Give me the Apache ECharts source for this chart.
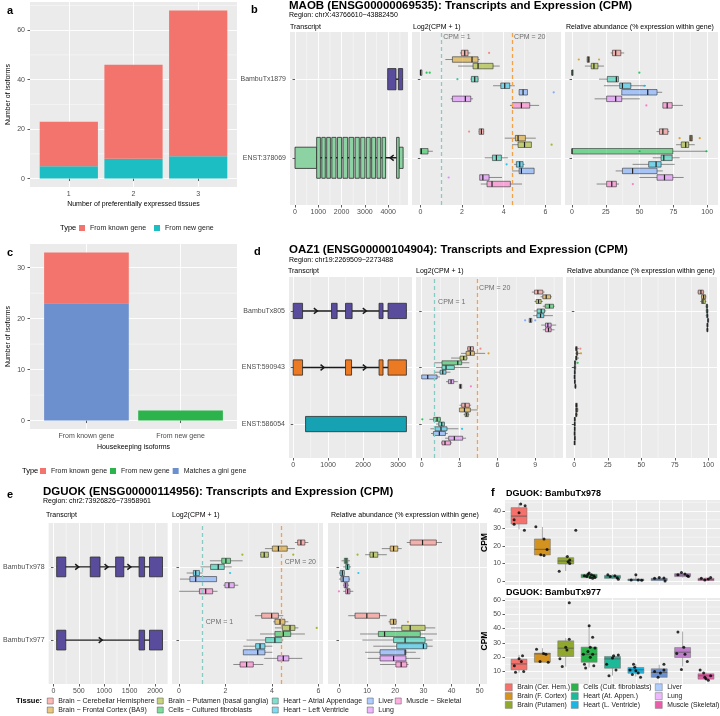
<!DOCTYPE html>
<html>
<head>
<meta charset="utf-8">
<script src="https://cdn.jsdelivr.net/npm/echarts@6/dist/echarts.min.js"></script>
<style>
  html, body { margin: 0; padding: 0; background: #fff; }
  #chart { width: 720px; height: 716px; }
</style>
</head>
<body>
<div id="chart"></div>
<script>
var FONT = '"Liberation Sans", Arial, sans-serif';

// ---------- panel a: isoforms by number of preferentially expressed tissues
var aTissueCounts = [1, 2, 3];
var aKnown = [18, 38, 59];
var aNew = [5, 8, 9];

// ---------- panel c: housekeeping isoforms
var cGroups = ['From known gene', 'From new gene'];
var cGini = [23, 0];
var cKnown = [10, 0];
var cNew = [0, 2];

// ---------- tissues
var tissues = ['Brain \u2212 Cerebellar Hemisphere', 'Brain \u2212 Frontal Cortex (BA9)', 'Brain \u2212 Putamen (basal ganglia)',
  'Cells \u2212 Cultured fibroblasts', 'Heart \u2212 Atrial Appendage', 'Heart \u2212 Left Ventricle', 'Liver', 'Lung', 'Muscle \u2212 Skeletal'];
var tissuesShort = ['Brain (Cer. Hem.)', 'Brain (F. Cortex)', 'Brain (Putamen)', 'Cells (Cult. fibroblasts)',
  'Heart (At. Appen.)', 'Heart (L. Ventricle)', 'Liver', 'Lung', 'Muscle (Skeletal)'];
var cpmThresholds = [1, 20];

// ---------- panel b: MAOB  (transcript index: 1 = ENST:378069, 2 = BambuTx1879)
var bTranscripts = ['ENST:378069', 'BambuTx1879'];
var bExons = [[2, 3978, 4335], [2, 4435, 4620], [1, 0, 930], [1, 4470, 4640]];
var bCds = [[1, 930, 1090], [1, 1150, 1300], [1, 1360, 1520], [1, 1580, 1760], [1, 1820, 2000], [1, 2060, 2260],
  [1, 2320, 2520], [1, 2580, 2760], [1, 2820, 3000], [1, 3060, 3230], [1, 3290, 3460], [1, 3520, 3680],
  [1, 3740, 3890], [1, 4360, 4470]];
var bIntrons = [[1, 0, 4640], [2, 3978, 4620]];
var bArrows = [[1, 4150]];
// [transcript, min, q1, median, q3, max] per tissue
var bLog2 = [
  [[2, 1.9, 1.97, 2.13, 2.29, 2.4], [1, 2.8, 2.82, 2.93, 3.04, 3.06]],
  [[2, 1.2, 1.54, 2.48, 2.77, 2.85], [1, 4.05, 4.56, 4.69, 5.04, 5.54]],
  [[2, 1.81, 2.53, 2.77, 3.49, 3.81], [1, 4.4, 4.69, 5.0, 5.33, 5.33]],
  [[2, 0, 0, 0.01, 0.08, 0.08], [1, 0, 0, 0.05, 0.37, 0.6]],
  [[2, 2.4, 2.45, 2.61, 2.77, 2.8], [1, 3.09, 3.46, 3.65, 3.89, 4.2]],
  [[2, 3.49, 3.86, 4.05, 4.29, 4.53], [1, 4.5, 4.61, 4.77, 4.93, 5.0]],
  [[2, 4.74, 4.74, 4.93, 5.14, 5.14], [1, 4.4, 4.74, 4.85, 5.46, 5.46]],
  [[2, 1.46, 1.54, 2.16, 2.42, 2.53], [1, 2.85, 2.85, 3.0, 3.3, 3.92]],
  [[2, 4.3, 4.42, 4.85, 5.25, 5.7], [1, 2.9, 3.2, 3.44, 4.32, 4.88]]
];
// isolated points [transcript, tissue, value]
var bLog2Points = [[2, 0, 3.3], [2, 3, 0.3], [2, 3, 0.45], [2, 4, 1.78], [2, 6, 6.4],
  [1, 0, 2.34], [1, 2, 6.3], [1, 5, 4.14], [1, 7, 1.36]];
var bRel = [
  [[2, 28.6, 29.9, 32.3, 36.1, 38.6], [1, 62.5, 64.7, 67.2, 70.9, 72]],
  [[2, 11, 11.2, 12, 12.9, 13], [1, 86.8, 87, 88, 89, 89.2]],
  [[2, 9.5, 14.2, 16.2, 19.2, 23.6], [1, 77, 80.8, 84.1, 86.3, 90.8]],
  [[2, 0, 0, 0, 0.8, 0.8], [1, 0, 0, 0, 74.6, 100]],
  [[2, 20, 26.1, 32.8, 34.3, 34.8], [1, 59.7, 65.9, 67.9, 74.1, 79.6]],
  [[2, 23.6, 35.3, 37.3, 43.5, 54.7], [1, 44.8, 56.7, 62.2, 65.9, 75.9]],
  [[2, 36.8, 36.8, 56, 62.9, 66.7], [1, 32.3, 37.3, 44.8, 62.9, 67.2]],
  [[2, 16.7, 25.6, 32.3, 36.8, 50.2], [1, 49.8, 62.9, 68.4, 74.6, 82.6]],
  [[2, 67.2, 67.2, 70.4, 74.1, 82], [1, 18.2, 25.6, 29.4, 32.8, 34.8]]
];
var bRelPoints = [[2, 1, 5], [2, 1, 20], [2, 3, 49.8], [2, 5, 53.5], [2, 8, 55],
  [1, 1, 79.6], [1, 1, 94.5], [1, 3, 50], [1, 3, 99.5], [1, 8, 45]];

// ---------- panel d: OAZ1  (1 = ENST:586054, 2 = ENST:590943, 3 = BambuTx805)
var dTranscripts = ['ENST:586054', 'ENST:590943', 'BambuTx805'];
var dExons = [[3, 0, 268], [3, 1097, 1257], [3, 1497, 1686], [3, 2457, 2571], [3, 2714, 3240],
  [2, 0, 268], [2, 1497, 1670], [2, 2457, 2571], [2, 2714, 3240], [1, 354, 3240]];
var dIntrons = [[3, 0, 3240], [2, 0, 3240]];
var dArrows = [[3, 649], [3, 2049], [2, 840], [2, 2049]];
var dLog2 = [
  [[3, 8.73, 8.94, 9.21, 9.6, 9.74], [2, 3.6, 3.65, 3.86, 4.1, 4.15], [1, 2.99, 3.17, 3.44, 3.78, 3.92]],
  [[3, 9.42, 9.6, 9.87, 10.21, 10.32], [2, 3.12, 3.52, 3.86, 4.18, 5.03], [1, 2.99, 2.99, 3.39, 3.86, 4.44]],
  [[3, 8.94, 9.07, 9.26, 9.47, 9.6], [2, 2.33, 3.04, 3.33, 3.57, 3.65], [1, 3.33, 3.44, 3.57, 3.7, 3.78]],
  [[3, 9.6, 9.79, 10.13, 10.45, 10.53], [2, 1.0, 1.61, 2.86, 3.17, 3.78], [1, 0.61, 0.95, 1.22, 1.48, 1.53]],
  [[3, 8.89, 9.15, 9.47, 9.74, 9.87], [2, 1.14, 1.61, 1.93, 2.59, 3.78], [1, 1.14, 1.35, 1.59, 1.8, 1.85]],
  [[3, 8.84, 9.13, 9.42, 9.68, 10.4], [2, 1.0, 1.46, 1.67, 1.93, 2.28], [1, 0.69, 1.06, 1.53, 2.01, 2.91]],
  [[3, 8.52, 8.52, 8.62, 8.73, 8.73], [2, 0, 0, 0.48, 1.22, 1.46], [1, 0.74, 0.93, 1.4, 1.88, 2.06]],
  [[3, 9.47, 9.81, 10.0, 10.26, 10.66], [2, 1.93, 2.12, 2.33, 2.54, 2.86], [1, 1.85, 2.14, 2.59, 3.25, 3.52]],
  [[3, 9.6, 9.81, 10.05, 10.26, 10.53], [2, 2.99, 2.99, 3.07, 3.17, 3.17], [1, 1.53, 1.61, 1.85, 2.28, 2.41]]
];
var dLog2Points = [[3, 6, 8.2], [3, 6, 9.0], [2, 1, 5.3], [2, 0, 4.66], [2, 8, 3.9], [1, 3, 0.05], [1, 5, 3.2]];
var dRel = [
  [[3, 92, 92.5, 94.5, 96.3, 97], [2, 0.5, 1, 1.5, 2.2, 3.5], [1, 0.6, 1, 1.6, 2.2, 2.5]],
  [[3, 94.5, 95, 96.5, 98, 98.5], [2, 0.8, 1.5, 2, 2.5, 4.5], [1, 0.5, 1, 1.8, 2.5, 3]],
  [[3, 94, 95, 96, 97.8, 98.5], [2, 0.5, 1, 1.5, 2, 3.5], [1, 0.5, 1, 1.5, 2, 2.5]],
  [[3, 98, 98.5, 99, 99.5, 100], [2, 0, 0.2, 0.5, 1, 1.5], [1, 0, 0, 0.3, 0.7, 1]],
  [[3, 98, 98.6, 99.2, 99.7, 100], [2, 0, 0, 0.4, 1, 1.4], [1, 0, 0, 0.2, 0.5, 0.8]],
  [[3, 98, 98.8, 99.3, 99.8, 100], [2, 0, 0, 0.3, 0.7, 1], [1, 0, 0, 0.2, 0.4, 0.6]],
  [[3, 99, 99.5, 99.8, 100, 100], [2, 0, 0, 0.1, 0.3, 0.5], [1, 0, 0, 0.1, 0.3, 0.4]],
  [[3, 98.5, 99, 99.4, 99.8, 100], [2, 0, 0.1, 0.3, 0.5, 0.8], [1, 0, 0.1, 0.3, 0.5, 0.7]],
  [[3, 98.5, 99, 99.3, 99.8, 100], [2, 0.3, 0.5, 0.8, 1.2, 1.5], [1, 0, 0, 0.1, 0.3, 0.4]]
];
var dRelPoints = [[2, 0, 4.5], [2, 1, 5], [2, 3, 2.5]];

// ---------- panel e: DGUOK  (1 = BambuTx977, 2 = BambuTx978)
var eTranscripts = ['BambuTx977', 'BambuTx978'];
var eExons = [[2, 63, 243], [2, 724, 917], [2, 1224, 1385], [2, 1685, 1794], [2, 1891, 2147],
  [1, 63, 243], [1, 1685, 1794], [1, 1891, 2147]];
var eIntrons = [[2, 63, 2147], [1, 63, 2147]];
var eArrows = [[2, 467], [2, 1045], [2, 1494], [1, 930]];
var eLog2 = [
  [[2, 4.99, 5.11, 5.25, 5.42, 5.57], [1, 3.27, 3.56, 3.99, 4.28, 4.49]],
  [[2, 3.7, 4.02, 4.28, 4.66, 4.99], [1, 4.06, 4.13, 4.35, 4.56, 4.71]],
  [[2, 3.49, 3.52, 3.67, 3.85, 3.87], [1, 4.13, 4.45, 4.78, 4.99, 5.14]],
  [[2, 1.33, 1.84, 2.02, 2.22, 2.74], [1, 3.49, 4.13, 4.49, 4.81, 5.42]],
  [[2, 0.93, 1.36, 1.69, 1.95, 2.27], [1, 2.91, 3.73, 4.13, 4.42, 4.49]],
  [[2, 0.33, 0.62, 0.72, 0.88, 1.02], [1, 2.77, 3.3, 3.49, 3.7, 4.02]],
  [[2, 0.04, 0.47, 0.72, 1.62, 1.62], [1, 2.77, 2.77, 3.39, 3.7, 4.02]],
  [[2, 1.91, 1.98, 2.15, 2.38, 2.55], [1, 3.67, 4.25, 4.49, 4.73, 5.31]],
  [[2, 0.01, 0.88, 1.15, 1.45, 1.66], [1, 2.34, 2.63, 2.91, 3.2, 3.63]]
];
var eLog2Points = [[2, 2, 2.73], [2, 2, 4.92], [2, 5, 2.2], [1, 2, 5.93]];
var eRel = [
  [[2, 24.1, 25.3, 29.7, 34.6, 36.6], [1, 3.3, 5.7, 9.9, 14.4, 17]],
  [[2, 15.2, 18.2, 19.4, 20.9, 22.3], [1, 17.6, 18.2, 19.4, 20.3, 20.5]],
  [[2, 9.3, 11, 12.2, 13.8, 17], [1, 18.5, 22.3, 25.3, 30.6, 34.2]],
  [[2, 0.9, 1.9, 2.5, 3.1, 3.9], [1, 7.5, 14, 16.2, 28.9, 34.8]],
  [[2, 1.5, 2.4, 3.0, 3.6, 4.3], [1, 8.3, 19.4, 23.5, 30.6, 33.3]],
  [[2, 0, 0.4, 1.2, 1.9, 2.1], [1, 12.2, 20.5, 30, 31.2, 33.3]],
  [[2, 0, 0.7, 1.5, 3.6, 3.9], [1, 9.3, 14.6, 23.5, 23.8, 27.3]],
  [[2, 1.5, 1.8, 2.4, 3.1, 3.6], [1, 10.2, 14.6, 19.4, 23.8, 28.9]],
  [[2, 1.5, 2.4, 3.1, 3.9, 5.1], [1, 14.6, 20.2, 22.1, 24.1, 24.7]]
];
var eRelPoints = [[2, 2, 6.6], [2, 5, 6.9], [2, 8, 0], [1, 1, 24.5]];

// ---------- panel f: DGUOK CPM per tissue  [min, q1, median, q3, max]
var f978 = [[29.5, 32.6, 37.1, 41.9, 44.4], [14.5, 14.9, 18.1, 24, 30.9], [5.7, 9.7, 11.4, 13.3, 14.2],
  [1.1, 1.9, 2.9, 3.8, 5], [1, 1.5, 2.3, 3.2, 3.8], [0.2, 0.2, 0.6, 1.1, 3.5], [0, 0.2, 1, 1.5, 2],
  [2, 2.5, 3.4, 4.2, 4.8], [0, 0.2, 0.8, 1.5, 2]];
var f977 = [[9.3, 11.2, 15.3, 18.6, 21.6], [16.5, 16.5, 22.3, 22.8, 26.3], [13.5, 20.5, 26.3, 31.4, 33.3],
  [12.8, 16.5, 22.1, 27, 42.6], [7.2, 12.3, 18.8, 20.5, 21.6], [6.5, 8.8, 11.2, 12.8, 15.1],
  [5.8, 6.0, 9.3, 11.9, 14.7], [13.5, 19.8, 23.5, 26.7, 37.9], [3.7, 4.7, 7, 8.4, 9.5]];
var f978Points = [[0.79, 35], [0.79, 32.5], [1.0, 39], [1.07, 44], [1.26, 43], [1.23, 29],
  [1.72, 31], [2.07, 24], [2.2, 18], [1.93, 15], [2.07, 14.5],
  [2.72, 5.5], [3.07, 14], [3.17, 12], [3.17, 10], [3.43, 29], [3.1, 11],
  [3.8, 3], [3.9, 2.5], [4.0, 4.5], [4.05, 2], [4.1, 3.5], [4.2, 3], [4.25, 2], [3.95, 3.8], [4.15, 1.5],
  [4.8, 3.5], [4.9, 2.5], [5.1, 3], [5.2, 1.8], [5.25, 1],
  [5.8, 0.6], [6.0, 3.6], [6.1, 0.5], [6.25, 0.4],
  [6.8, 1.5], [7.0, 2], [7.2, 1.7], [7.25, 0],
  [7.8, 3.5], [7.95, 4.8], [8.1, 4], [8.2, 3], [8.25, 2.5],
  [8.8, 1.5], [8.95, 0.5], [9.1, 1.2], [9.2, 2]];
var f977Points = [[0.8, 14], [0.85, 9.5], [1.0, 19], [1.1, 17], [1.15, 21], [1.2, 10],
  [1.75, 25.5], [1.9, 17], [2.05, 22.5], [2.15, 22], [2.25, 16.5],
  [2.75, 19], [2.85, 13.5], [3.0, 27], [3.05, 25], [3.15, 32.5], [3.15, 58],
  [3.75, 22], [3.8, 15], [3.85, 12.5], [3.95, 24], [4.0, 42], [4.05, 27], [4.05, 20], [4.15, 34], [4.15, 22], [4.2, 14], [4.25, 26.5],
  [4.75, 15], [4.85, 7], [5.0, 19.5], [5.05, 21], [5.15, 11], [5.25, 21.5],
  [5.75, 11], [5.85, 8], [5.95, 13], [6.0, 10.5], [6.1, 9], [6.2, 6], [5.9, 15],
  [6.8, 10], [6.95, 6], [7.05, 9], [7.2, 15], [7.2, 11],
  [7.75, 22.5], [7.8, 37.5], [7.95, 11.5], [8.05, 27], [8.1, 22], [8.2, 17],
  [8.75, 11], [8.9, 9], [8.95, 6], [9.0, 5], [9.1, 4], [9.2, 7]];

// ---------- styling
var HUE = ['#F8766D', '#D39200', '#93AA00', '#00BA38', '#00C19F', '#00B9E3', '#619CFF', '#DB72FB', '#FF61C3'];
var HUE_F = ['#F4726B', '#D4921F', '#90A82D', '#2BB34B', '#1DB999', '#1AB5E1', '#6990D2', '#BD7FCA', '#EA5DA8'];
var PURPLE = '#5A4C9D';
var DODGE = 0.75 / 9;

function alpha(hex, a) {
  var n = parseInt(hex.slice(1), 16);
  return 'rgba(' + (n >> 16) + ',' + ((n >> 8) & 255) + ',' + (n & 255) + ',' + a + ')';
}
function seq(n) { var r = []; for (var i = 1; i <= n; i++) r.push(i); return r; }

var grids = [], xAxes = [], yAxes = [], series = [], legends = [];

function addGrid(r) {
  grids.push({ left: r[0], top: r[1], width: r[2], height: r[3], show: true,
    backgroundColor: '#EBEBEB', borderWidth: 0, containLabel: false });
  return grids.length - 1;
}

function axis(gi, range, ticks, o) {
  o = o || {};
  return {
    type: 'value', gridIndex: gi, min: range[0], max: range[1],
    name: o.name || '', nameLocation: 'middle', nameGap: o.nameGap || 0,
    nameTextStyle: { fontFamily: FONT, fontSize: o.nameSize || 7, color: '#000', fontWeight: o.nameWeight || 'normal' },
    axisLine: { show: false },
    axisTick: { show: o.tick !== false, length: 2.5, customValues: ticks, lineStyle: { color: '#333', width: 0.8 } },
    axisLabel: { show: o.label !== false, customValues: ticks, margin: o.margin || 3.5, fontFamily: FONT,
      fontSize: 7, color: '#4D4D4D', formatter: o.fmt || function (v) { return String(v); } },
    splitLine: { show: true, lineStyle: { color: '#FFFFFF', width: 0.9 } }
  };
}

function minorLines(gi, dim, vals, span) {
  series.push({
    type: 'custom', xAxisIndex: gi, yAxisIndex: gi, silent: true, z: 1,
    data: vals.map(function (v) { return [v]; }),
    renderItem: function (p, api) {
      var v = api.value(0);
      var a = dim === 'x' ? api.coord([v, span[0]]) : api.coord([span[0], v]);
      var b = dim === 'x' ? api.coord([v, span[1]]) : api.coord([span[1], v]);
      return { type: 'line', shape: { x1: a[0], y1: a[1], x2: b[0], y2: b[1] },
        style: { stroke: '#FFFFFF', lineWidth: 0.45 } };
    }
  });
}

function line(a, b, stroke, w) {
  return { type: 'line', shape: { x1: a[0], y1: a[1], x2: b[0], y2: b[1] }, style: { stroke: stroke, lineWidth: w } };
}

// stacked bar pieces: x, from, to
function barPieces(gi, name, color, xs, from, to, half) {
  series.push({
    type: 'custom', name: name, xAxisIndex: gi, yAxisIndex: gi, z: 3, itemStyle: { color: color },
    data: xs.map(function (x, i) { return [x, from[i], to[i]]; }),
    renderItem: function (p, api) {
      var a = api.coord([api.value(0) - half, api.value(2)]), b = api.coord([api.value(0) + half, api.value(1)]);
      return { type: 'rect', shape: { x: a[0], y: a[1], width: b[0] - a[0], height: b[1] - a[1] }, style: { fill: color } };
    }
  });
}

function hBoxes(gi, k, rows) {
  series.push({
    type: 'custom', name: tissues[k], xAxisIndex: gi, yAxisIndex: gi, z: 3, data: rows,
    itemStyle: { color: alpha(HUE[k], 0.5), borderColor: '#555', borderWidth: 0.6 },
    renderItem: function (p, api) {
      var y = api.value(0) + (4 - k) * DODGE, h = DODGE * 0.42;
      var lo = api.coord([api.value(1), y]), q1 = api.coord([api.value(2), y]);
      var q3 = api.coord([api.value(4), y]), hi = api.coord([api.value(5), y]);
      var tl = api.coord([api.value(2), y + h]), br = api.coord([api.value(4), y - h]);
      var m1 = api.coord([api.value(3), y + h]), m2 = api.coord([api.value(3), y - h]);
      return { type: 'group', children: [
        line(lo, q1, 'rgba(50,50,50,0.75)', 0.7),
        line(q3, hi, 'rgba(50,50,50,0.75)', 0.7),
        { type: 'rect', shape: { x: tl[0], y: tl[1], width: Math.max(br[0] - tl[0], 1), height: br[1] - tl[1] },
          style: { fill: alpha(HUE[k], 0.5), stroke: 'rgba(40,40,40,0.8)', lineWidth: 0.7 } },
        line(m1, m2, '#222', 1.2)
      ] };
    }
  });
}

function hPoints(gi, pts) {
  series.push({
    type: 'custom', xAxisIndex: gi, yAxisIndex: gi, z: 4, silent: true, data: pts,
    renderItem: function (p, api) {
      var k = api.value(1);
      var c = api.coord([api.value(2), api.value(0) + (4 - k) * DODGE]);
      return { type: 'circle', shape: { cx: c[0], cy: c[1], r: 1.1 }, style: { fill: alpha(HUE[k], 0.8) } };
    }
  });
}

function vBoxes(gi, k, stats) {
  series.push({
    type: 'custom', name: tissuesShort[k], xAxisIndex: gi, yAxisIndex: gi, z: 3,
    data: [[k + 1].concat(stats)],
    itemStyle: { color: HUE_F[k], borderColor: '#777', borderWidth: 0.5 },
    renderItem: function (p, api) {
      var x = api.value(0), w = 0.34;
      var lo = api.coord([x, api.value(1)]), q1 = api.coord([x, api.value(2)]);
      var q3 = api.coord([x, api.value(4)]), hi = api.coord([x, api.value(5)]);
      var tl = api.coord([x - w, api.value(4)]), br = api.coord([x + w, api.value(2)]);
      var m1 = api.coord([x - w, api.value(3)]), m2 = api.coord([x + w, api.value(3)]);
      return { type: 'group', children: [
        line(lo, q1, '#888', 0.7),
        line(q3, hi, '#888', 0.7),
        { type: 'rect', shape: { x: tl[0], y: tl[1], width: br[0] - tl[0], height: Math.max(br[1] - tl[1], 1) },
          style: { fill: HUE_F[k], stroke: '#777', lineWidth: 0.6 } },
        line(m1, m2, '#555', 0.8)
      ] };
    }
  });
}

function transcriptPanel(gi, g) {
  series.push({
    type: 'custom', xAxisIndex: gi, yAxisIndex: gi, silent: true, z: 2, data: g.introns,
    renderItem: function (p, api) {
      return line(api.coord([api.value(1), api.value(0)]), api.coord([api.value(2), api.value(0)]), '#1a1a1a', 1.4);
    }
  });
  [[g.exons, 0.135], [g.cds || [], 0.26]].forEach(function (set) {
    series.push({
      type: 'custom', xAxisIndex: gi, yAxisIndex: gi, silent: true, z: 3, data: set[0],
      renderItem: function (p, api) {
        var t = api.value(0);
        var a = api.coord([api.value(1), t + set[1]]), b = api.coord([api.value(2), t - set[1]]);
        return { type: 'rect', shape: { x: a[0], y: a[1], width: b[0] - a[0], height: b[1] - a[1] },
          style: { fill: g.colors[t - 1], stroke: '#2b2b2b', lineWidth: 0.8 } };
      }
    });
  });
  series.push({
    type: 'custom', xAxisIndex: gi, yAxisIndex: gi, silent: true, z: 4, data: g.arrows,
    renderItem: function (p, api) {
      var c = api.coord([api.value(1), api.value(0)]), d = g.dir;
      return { type: 'polyline', shape: { points: [[c[0] - 2 * d, c[1] - 2.8], [c[0] + 1.5 * d, c[1]], [c[0] - 2 * d, c[1] + 2.8]] },
        style: { stroke: '#1a1a1a', lineWidth: 1.5, fill: null } };
    }
  });
}

function geneRow(g) {
  var n = g.names.length, yr = [0.4, n + 0.6], yt = seq(n);
  var g1 = addGrid(g.rects[0]);
  xAxes.push(axis(g1, g.txRange, g.txTicks));
  yAxes.push(axis(g1, yr, yt, { margin: 4, fmt: function (v) { return g.names[v - 1]; } }));
  minorLines(g1, 'x', g.txMinor, yr);
  transcriptPanel(g1, g);

  var g2 = addGrid(g.rects[1]);
  xAxes.push(axis(g2, g.lgRange, g.lgTicks));
  yAxes.push(axis(g2, yr, yt, { label: false }));
  minorLines(g2, 'x', g.lgMinor, yr);
  series.push({
    type: 'scatter', xAxisIndex: g2, yAxisIndex: g2, z: 2, silent: true, symbolSize: 0,
    data: g.cpmLabels.map(function (l) { return { value: [l[0], l[1]], label: { formatter: l[2] } }; }),
    label: { show: true, position: 'right', distance: 0, fontFamily: FONT, fontSize: 7, color: '#4D4D4D' },
    markLine: { silent: true, symbol: 'none', label: { show: false }, animation: false,
      data: [
        { xAxis: Math.log2(cpmThresholds[0] + 1), lineStyle: { color: '#88CBC5', type: [4, 3], width: 1.3 } },
        { xAxis: Math.log2(cpmThresholds[1] + 1), lineStyle: { color: '#F4A24A', type: [4, 3], width: 1.3 } }
      ] }
  });
  for (var k = 0; k < 9; k++) hBoxes(g2, k, g.log2[k]);
  hPoints(g2, g.log2Points);

  var g3 = addGrid(g.rects[2]);
  xAxes.push(axis(g3, g.relRange, g.relTicks));
  yAxes.push(axis(g3, yr, yt, { label: false }));
  minorLines(g3, 'x', g.relMinor, yr);
  for (var j = 0; j < 9; j++) hBoxes(g3, j, g.rel[j]);
  hPoints(g3, g.relPoints);
}

// ---------- panel a
var gA = addGrid([30, 2, 207, 185]);
xAxes.push(axis(gA, [0.4, 3.6], aTissueCounts, { name: 'Number of preferentially expressed tissues', nameGap: 14 }));
yAxes.push(axis(gA, [-3.4, 71.4], [0, 20, 40, 60], { name: 'Number of isoforms', nameGap: 18, margin: 5 }));
minorLines(gA, 'y', [10, 30, 50, 70], [0.4, 3.6]);
barPieces(gA, 'From new gene', '#1CBEC3', aTissueCounts, [0, 0, 0], aNew, 0.45);
barPieces(gA, 'From known gene', '#F3746D', aTissueCounts, aNew,
  aNew.map(function (v, i) { return v + aKnown[i]; }), 0.45);

// ---------- panel c
var gC = addGrid([30, 244, 207, 185]);
xAxes.push(axis(gC, [0.4, 2.6], [1, 2], { name: 'Housekeeping isoforms', nameGap: 15,
  fmt: function (v) { return cGroups[v - 1]; } }));
yAxes.push(axis(gC, [-1.65, 34.65], [0, 10, 20, 30], { name: 'Number of isoforms', nameGap: 18, margin: 5 }));
minorLines(gC, 'y', [5, 15, 25], [0.4, 2.6]);
barPieces(gC, 'Matches a gini gene', '#6C90CE', [1, 2], [0, 0], cGini, 0.45);
barPieces(gC, 'From known gene ', '#F3746D', [1, 2], cGini,
  cGini.map(function (v, i) { return v + cKnown[i]; }), 0.45);
barPieces(gC, 'From new gene ', '#2DB34C', [1, 2], [0, 0], cNew, 0.45);

// ---------- panels b, d, e
geneRow({
  rects: [[290, 32, 118, 173], [412, 32, 149, 173], [565, 32, 153, 173]],
  names: bTranscripts, colors: ['#8CD2A2', PURPLE], dir: -1,
  exons: bExons, cds: bCds, introns: bIntrons, arrows: bArrows,
  txRange: [-215, 4850], txTicks: [0, 1000, 2000, 3000, 4000], txMinor: [500, 1500, 2500, 3500, 4500],
  lgRange: [-0.4, 6.75], lgTicks: [0, 2, 4, 6], lgMinor: [1, 3, 5],
  relRange: [-5.2, 108], relTicks: [0, 25, 50, 75, 100], relMinor: [12.5, 37.5, 62.5, 87.5],
  cpmLabels: [[1.1, 2.54, 'CPM = 1'], [4.5, 2.54, 'CPM = 20']],
  log2: bLog2, rel: bRel, log2Points: bLog2Points, relPoints: bRelPoints
});
geneRow({
  rects: [[289, 277, 123, 181], [416, 277, 147, 181], [566, 277, 151, 181]],
  names: dTranscripts, colors: ['#17A2B3', '#EC7A22', PURPLE], dir: 1,
  exons: dExons, introns: dIntrons, arrows: dArrows,
  txRange: [-120, 3400], txTicks: [0, 1000, 2000, 3000], txMinor: [500, 1500, 2500],
  lgRange: [-0.45, 11.2], lgTicks: [0, 3, 6, 9], lgMinor: [1.5, 4.5, 7.5, 10.5],
  relRange: [-6.2, 106.5], relTicks: [0, 25, 50, 75, 100], relMinor: [12.5, 37.5, 62.5, 87.5],
  cpmLabels: [[1.3, 3.15, 'CPM = 1'], [4.55, 3.41, 'CPM = 20']],
  log2: dLog2, rel: dRel, log2Points: dLog2Points, relPoints: dRelPoints
});
geneRow({
  rects: [[46, 523, 122, 161], [172, 523, 151, 161], [328, 523, 159, 161]],
  names: eTranscripts, colors: [PURPLE, PURPLE], dir: 1,
  exons: eExons, introns: eIntrons, arrows: eArrows,
  txRange: [-95, 2255], txTicks: [0, 500, 1000, 1500, 2000], txMinor: [250, 750, 1250, 1750, 2250],
  lgRange: [-0.3, 6.2], lgTicks: [0, 2, 4, 6], lgMinor: [1, 3, 5],
  relRange: [-3.9, 52.6], relTicks: [0, 10, 20, 30, 40, 50], relMinor: [5, 15, 25, 35, 45],
  cpmLabels: [[1.15, 1.24, 'CPM = 1'], [4.55, 2.07, 'CPM = 20']],
  log2: eLog2, rel: eRel, log2Points: eLog2Points, relPoints: eRelPoints
});

// ---------- panel f
[[[505, 500, 215, 85], [-2.3, 46.3], [0, 10, 20, 30, 40], [5, 15, 25, 35, 45], f978, f978Points],
 [[505, 598, 215, 86], [1.3, 61.3], [10, 20, 30, 40, 50, 60], [5, 15, 25, 35, 45, 55], f977, f977Points]
].forEach(function (f) {
  var gi = addGrid(f[0]);
  xAxes.push(axis(gi, [0.4, 9.6], seq(9), { label: false, tick: false }));
  yAxes.push(axis(gi, f[1], f[2], { name: 'CPM', nameGap: 12, nameSize: 8.5, nameWeight: 'bold', margin: 4 }));
  minorLines(gi, 'y', f[3], [0.4, 9.6]);
  for (var k = 0; k < 9; k++) vBoxes(gi, k, f[4][k]);
  series.push({ type: 'scatter', xAxisIndex: gi, yAxisIndex: gi, z: 5, silent: true, symbolSize: 3,
    itemStyle: { color: '#000' }, data: f[5] });
});

// ---------- legends
function legend(names, left, top, o) {
  o = o || {};
  legends.push({
    data: names, left: left, top: top, padding: 0, orient: o.orient || 'horizontal',
    itemWidth: o.size || 6, itemHeight: o.size || 6, itemGap: o.gap || 0, icon: 'rect', selectedMode: false,
    itemStyle: { borderColor: o.border || 'rgba(0,0,0,0)', borderWidth: o.border ? 0.5 : 0 },
    textStyle: { fontFamily: FONT, fontSize: o.fs || 7, color: '#1a1a1a', lineHeight: o.lh || 9 },
    formatter: function (n) { return n.trim(); }
  });
}
legend(['From known gene', 'From new gene'], 79, 223.5, { gap: 8 });
legend(['From known gene ', 'From new gene ', 'Matches a gini gene'], 40, 466.5, { gap: 3 });
[[0, 1], [2, 3], [4, 5], [6, 7], [8]].forEach(function (ids, i) {
  legend(ids.map(function (k) { return tissues[k]; }), [47, 157, 272, 367, 395][i], 696.5,
    { orient: 'vertical', border: '#555' });
});
[[0, 1, 2], [3, 4, 5], [6, 7, 8]].forEach(function (ids, i) {
  legend(ids.map(function (k) { return tissuesShort[k]; }), [505, 571, 655][i], 682.9,
    { orient: 'vertical', size: 7, lh: 8.8, border: '#777', fs: 6.8 });
});

// ---------- titles and labels
var texts = [
  [7, 10.5, 'a', 11, 'bold'], [251, 10, 'b', 11, 'bold'], [7, 253, 'c', 11, 'bold'],
  [254, 251.5, 'd', 11, 'bold'], [7, 494.5, 'e', 11, 'bold'], [491, 493, 'f', 11, 'bold'],
  [289, 5.5, 'MAOB (ENSG00000069535): Transcripts and Expression (CPM)', 11.5, 'bold'],
  [289, 15.2, 'Region: chrX:43766610\u221243882450', 7, 'normal'],
  [290, 27, 'Transcript', 7, 'normal'], [413, 27, 'Log2(CPM + 1)', 7, 'normal'],
  [566, 27, 'Relative abundance (% expression within gene)', 7, 'normal'],
  [289, 249.8, 'OAZ1 (ENSG00000104904): Transcripts and Expression (CPM)', 11.5, 'bold'],
  [289, 260.3, 'Region: chr19:2269509\u22122273488', 7, 'normal'],
  [288, 271.5, 'Transcript', 7, 'normal'], [416, 271.5, 'Log2(CPM + 1)', 7, 'normal'],
  [567, 271.5, 'Relative abundance (% expression within gene)', 7, 'normal'],
  [43, 491.5, 'DGUOK (ENSG00000114956): Transcripts and Expression (CPM)', 11.5, 'bold'],
  [43, 501.5, 'Region: chr2:73926826\u221273958961', 7, 'normal'],
  [46, 515, 'Transcript', 7, 'normal'], [172, 515, 'Log2(CPM + 1)', 7, 'normal'],
  [331, 515, 'Relative abundance (% expression within gene)', 7, 'normal'],
  [506, 493.8, 'DGUOK: BambuTx978', 9, 'bold'], [506, 592.8, 'DGUOK: BambuTx977', 9, 'bold'],
  [60, 228, 'Type', 7.5, 'normal'], [22, 471, 'Type', 7.5, 'normal'], [16, 701, 'Tissue:', 7.5, 'bold']
];

var chart = echarts.init(document.getElementById('chart'), null, { renderer: 'canvas' });
chart.setOption({
  animation: false,
  backgroundColor: '#FFFFFF',
  grid: grids, xAxis: xAxes, yAxis: yAxes, series: series, legend: legends,
  graphic: texts.map(function (t) {
    return { type: 'text', x: t[0], y: t[1], silent: true,
      style: { text: t[2], fill: '#000', font: t[4] + ' ' + t[3] + 'px ' + FONT,
        verticalAlign: 'middle', textVerticalAlign: 'middle' } };
  })
});
</script>
</body>
</html>
